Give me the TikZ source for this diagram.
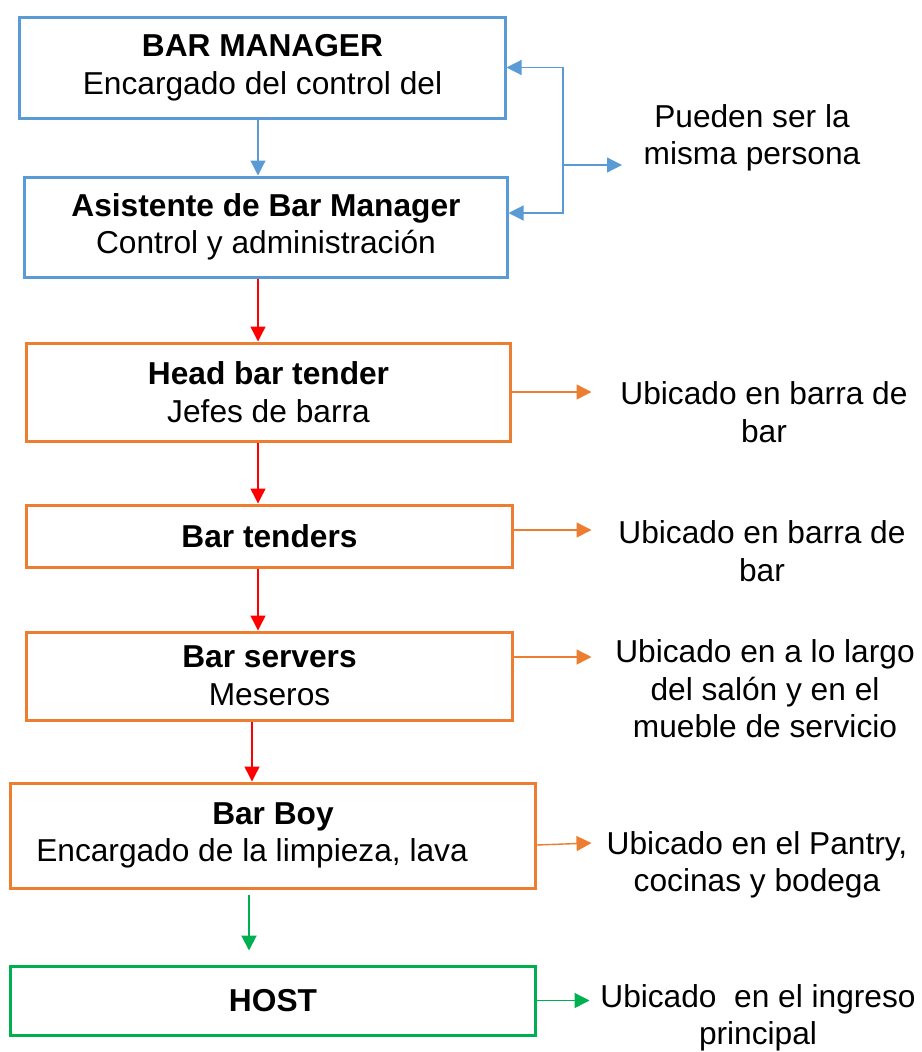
\documentclass[tikz,border=0pt]{standalone}
\usepackage{fontspec}
\setmainfont{Liberation Sans}
\usepackage{tikz}
\usetikzlibrary{arrows.meta}
\definecolor{azul}{RGB}{91,155,213}
\definecolor{naranja}{RGB}{237,125,49}
\definecolor{verde}{RGB}{0,176,80}
\begin{document}
\begin{tikzpicture}[x=1bp,y=-1bp,
    caja/.style={draw,line width=3bp,rectangle,align=center,inner sep=0pt,
        font=\fontsize{31.8pt}{37.7pt}\selectfont},
    nota/.style={align=center,inner sep=0pt,font=\fontsize{31.8pt}{37.7pt}\selectfont},
    flecha/.style={line width=1.4bp,-{Triangle[length=15bp,width=15bp]}}]
    \useasboundingbox (0,0) rectangle (922,1052);
    % Cajas del organigrama
    \node[caja,draw=azul,minimum width=485bp,minimum height=101bp] (mgr) at (262.5,67.5)
        {\textbf{BAR MANAGER}\\Encargado del control del};
    \node[caja,draw=azul,minimum width=482bp,minimum height=100bp] (asist) at (266,227)
        {\textbf{Asistente de Bar Manager}\\Control y administración};
    \node[caja,draw=naranja,minimum width=483bp,minimum height=98bp] (head) at (268.5,392)
        {\textbf{Head bar tender}\\Jefes de barra};
    \node[caja,draw=naranja,minimum width=485bp,minimum height=62bp] (tenders) at (269.5,536)
        {\textbf{Bar tenders}};
    \node[caja,draw=naranja,minimum width=485bp,minimum height=88bp] (servers) at (269.5,676)
        {\textbf{Bar servers}\\Meseros};
    \node[caja,draw=naranja,minimum width=524bp,minimum height=105bp] (boy) at (273,835.5)
        {\textbf{Bar Boy}\\Encargado de la limpieza, lava\hspace*{42bp}};
    \node[caja,draw=verde,minimum width=524bp,minimum height=69bp] (host) at (273,1000.5)
        {\textbf{HOST}};
    % Notas a la derecha
    \node[nota] (misma) at (752,138) {Pueden ser la\\misma persona};
    \node[nota] (nhead) at (764,412) {Ubicado en barra de\\bar};
    \node[nota] (ntenders) at (762,551) {Ubicado en barra de\\bar};
    \node[nota] (nservers) at (765,689) {Ubicado en a lo largo\\del salón y en el\\mueble de servicio};
    \node[nota] (nboy) at (757,865) {Ubicado en el Pantry,\\cocinas y bodega};
    \node[nota] (nhost) at (758,1018) {Ubicado\ \ en el ingreso\\principal};
    % Flechas verticales
    \coordinate (eje) at (258,0);
    \coordinate (ejeb) at (252,0);
    \coordinate (ejec) at (249,0);
    \draw[flecha,draw=azul,fill=azul,line width=1.2bp] (eje |- mgr.south) -- (eje |- asist.north);
    \draw[flecha,red] (eje |- asist.south) -- (eje |- head.north);
    \draw[flecha,red] (eje |- head.south) -- (eje |- tenders.north);
    \draw[flecha,red] (eje |- tenders.south) -- (eje |- servers.north);
    \draw[flecha,red] (ejeb |- servers.south) -- (ejeb |- boy.north);
    \draw[flecha,verde,line width=2bp,shorten <=5bp,shorten >=14bp] (ejec |- boy.south) -- (ejec |- host.north);
    % Llave azul
    \coordinate (split) at (563,165);
    \draw[flecha,azul,line width=1.2bp] (split) |- (mgr.east);
    \draw[flecha,azul,line width=1.2bp] (split) |- ([yshift=14bp]asist.east);
    \draw[flecha,azul,line width=1.2bp] (split) -- +(59,0);
    % Flechas a las notas
    \draw[flecha,naranja] (head.east) -- +(80,0);
    \draw[flecha,naranja] ([yshift=6bp]tenders.east) -- +(78,0);
    \draw[flecha,naranja] ([yshift=19bp]servers.east) -- +(78,0);
    \draw[flecha,naranja] ([yshift=-9.5bp]boy.east) -- +(55,-2);
    \draw[flecha,verde] (host.east) -- +(53,0);
\end{tikzpicture}
\end{document}
